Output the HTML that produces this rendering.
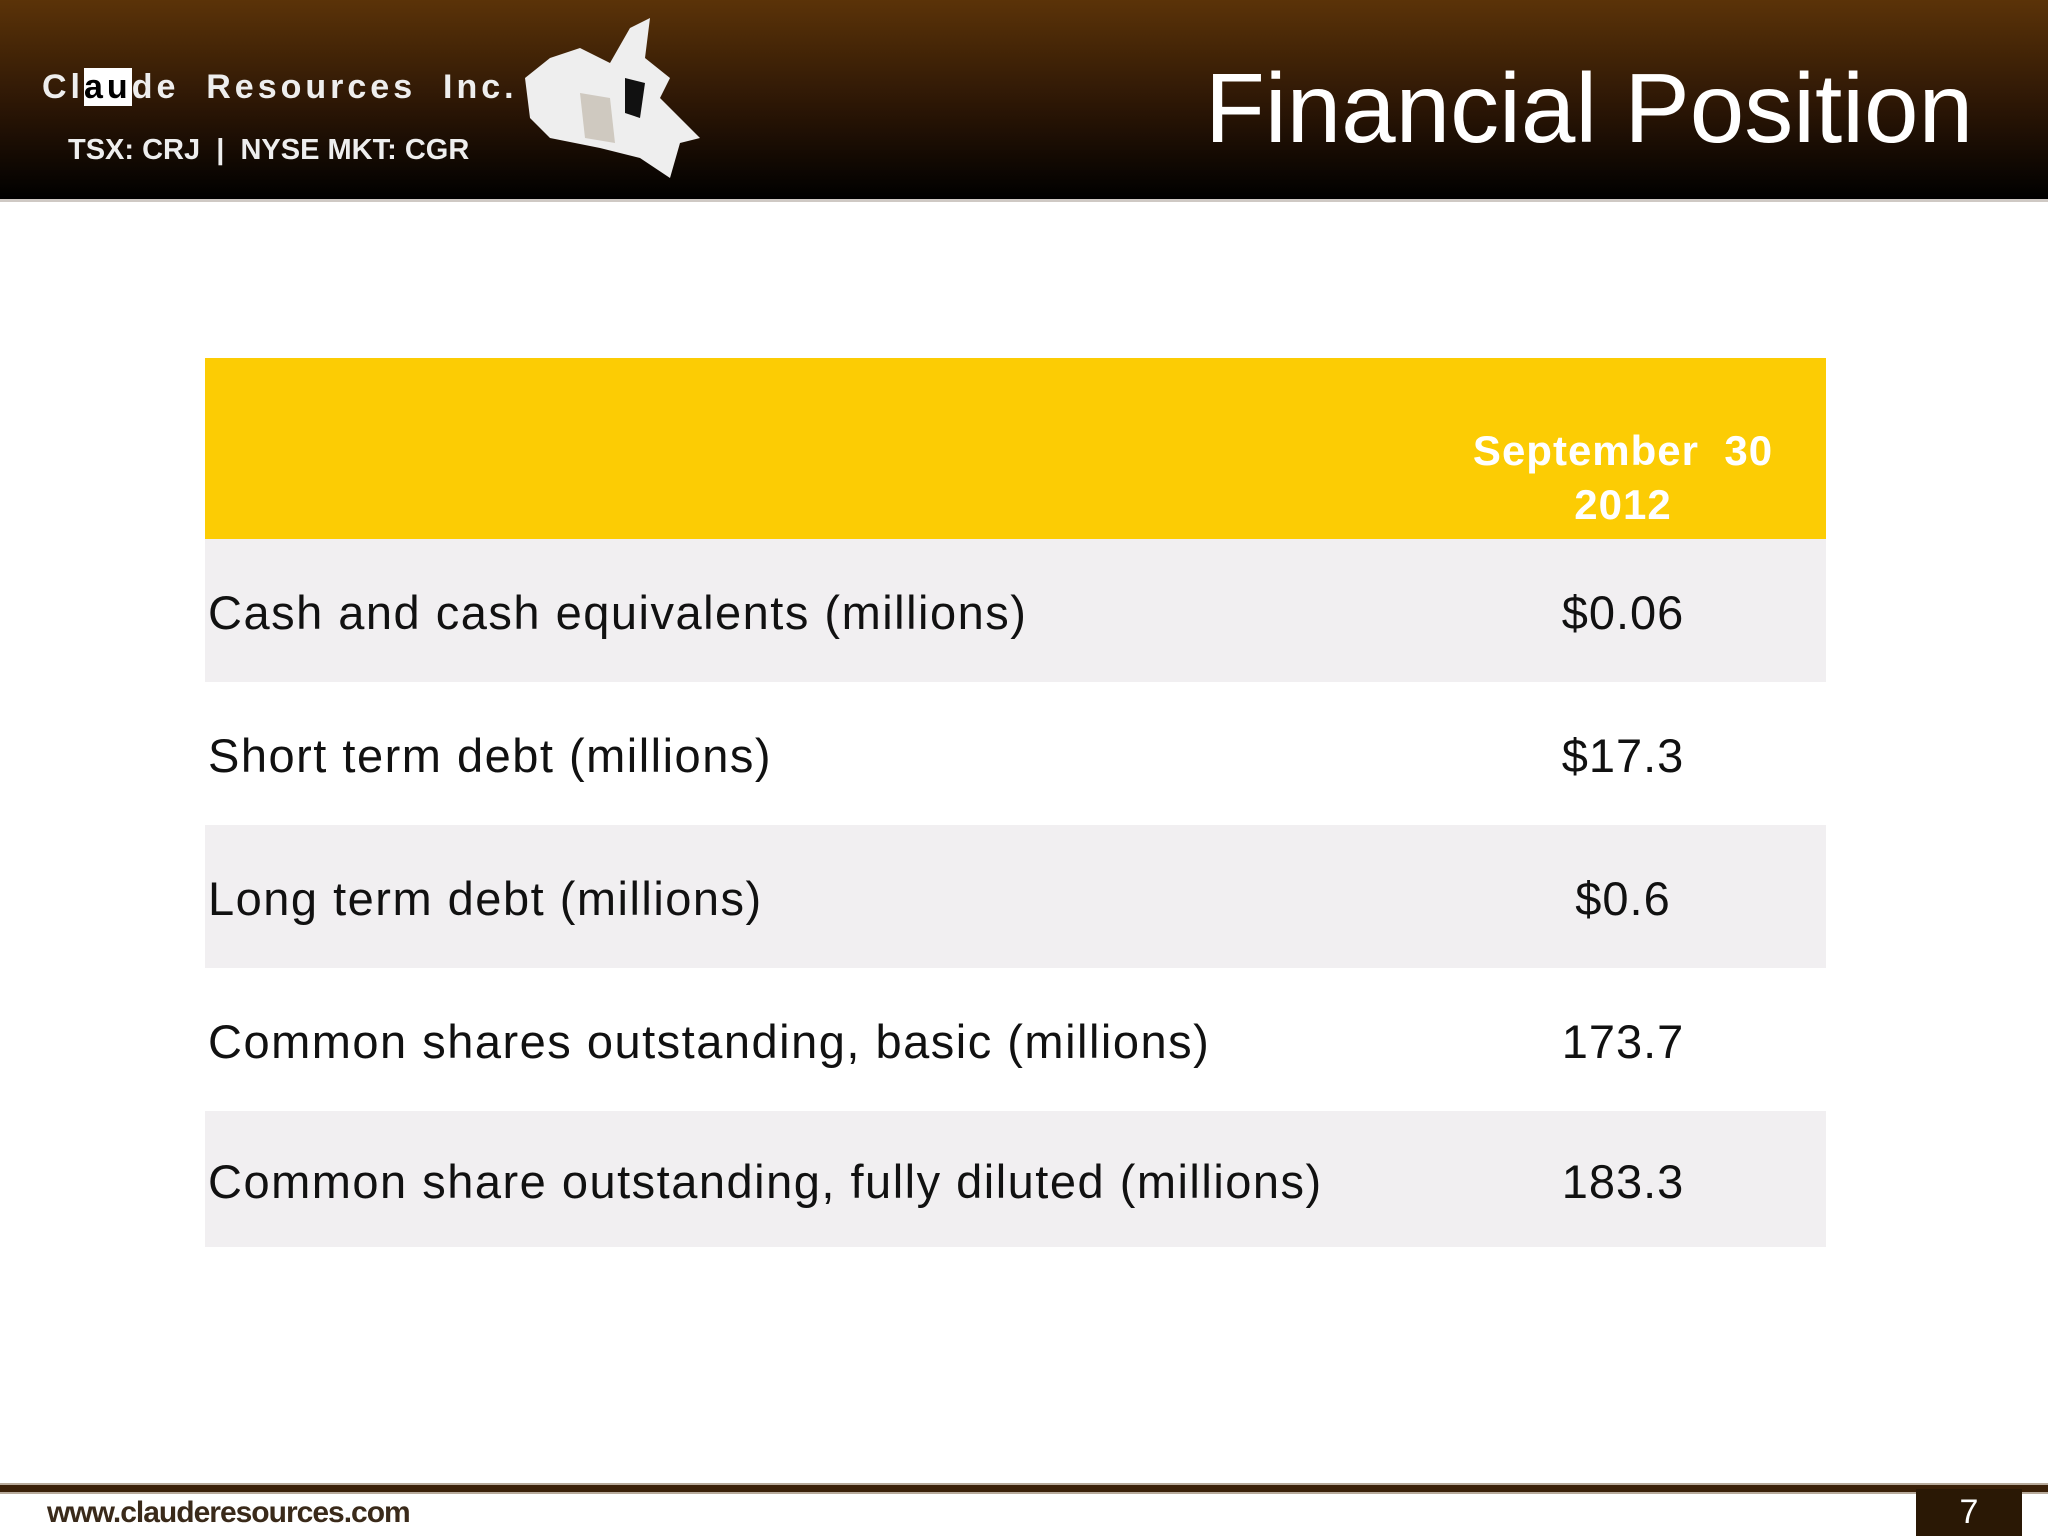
<!DOCTYPE html>
<html><head><meta charset="utf-8"><style>
body{margin:0;width:2048px;height:1536px;background:#fff;position:relative;overflow:hidden;font-family:"Liberation Sans","DejaVu Sans",sans-serif}
.abs{position:absolute}
#hdr{left:0;top:0;width:2048px;height:199px;background:linear-gradient(#5b3308,#2a1505 55%,#000);border-bottom:3px solid #cfc9c4}
.row{position:absolute;left:205px;width:1621px}
.lbl{position:absolute;left:3px;font-size:47px;color:#111;letter-spacing:1.5px;white-space:nowrap}
.val{position:absolute;left:1418px;width:0;font-size:47px;color:#111;letter-spacing:1px}
.val span{position:absolute;transform:translateX(-50%);white-space:nowrap}
</style></head><body>
<div id="hdr" class="abs">
 <div class="abs" style="left:42px;top:68px;color:#eee;font-size:34px;font-weight:bold;letter-spacing:4px;white-space:nowrap">Cl<span style="background:#fff;color:#000">au</span>de&nbsp; Resources&nbsp; Inc.</div>
 <div class="abs" style="left:68px;top:134px;color:#eee;font-size:29px;font-weight:bold;white-space:nowrap">TSX: CRJ &nbsp;|&nbsp; NYSE MKT: CGR</div>
 <svg class="abs" style="left:520px;top:18px" width="190" height="165" viewBox="0 0 190 165"><path d="M30 40 L60 30 L90 45 L110 10 L130 0 L125 40 L150 60 L140 80 L170 110 L180 120 L160 125 L150 160 L120 140 L80 130 L30 120 L10 100 L5 60 Z" fill="#eee"/><path d="M105 60 L125 65 L120 100 L105 95 Z" fill="#111"/><path d="M60 75 L90 80 L95 125 L65 120 Z" fill="#cfc9c0"/></svg>
 <div class="abs" style="left:1205px;top:52px;color:#fff;font-size:98px;white-space:nowrap">Financial Position</div>
</div>
<div class="row" style="top:358px;height:181px;background:#fccc04">
 <div class="abs" style="left:1418px;top:66px;width:0"><div style="position:absolute;transform:translateX(-50%);color:#fff;font-weight:bold;font-size:42px;letter-spacing:1px;text-align:center;line-height:54px;white-space:nowrap">September&nbsp; 30<br>2012</div></div>
</div>
<div class="row" style="top:539px;height:143px;background:#f1eff1"><div class="lbl" style="top:46px">Cash and cash equivalents (millions)</div><div class="val" style="top:46px"><span>$0.06</span></div></div>
<div class="row" style="top:682px;height:143px;background:#fff"><div class="lbl" style="top:46px">Short term debt (millions)</div><div class="val" style="top:46px"><span>$17.3</span></div></div>
<div class="row" style="top:825px;height:143px;background:#f1eff1"><div class="lbl" style="top:46px">Long term debt (millions)</div><div class="val" style="top:46px"><span>$0.6</span></div></div>
<div class="row" style="top:968px;height:143px;background:#fff"><div class="lbl" style="top:46px">Common shares outstanding, basic (millions)</div><div class="val" style="top:46px"><span>173.7</span></div></div>
<div class="row" style="top:1111px;height:136px;background:#f1eff1"><div class="lbl" style="top:43px">Common share outstanding, fully diluted (millions)</div><div class="val" style="top:43px"><span>183.3</span></div></div>
<div class="abs" style="left:0;top:1483px;width:2048px;height:7px;background:#3a2008;border-top:2px solid #b8ab9c;border-bottom:2px solid #b8ab9c"></div>
<div class="abs" style="left:47px;top:1496px;font-size:30px;font-weight:bold;color:#3a2a1a;letter-spacing:-1px">www.clauderesources.com</div>
<div class="abs" style="left:1916px;top:1489px;width:106px;height:47px;background:#2a1805;color:#fff;font-size:34px;text-align:center;line-height:47px">7</div>
</body></html>
